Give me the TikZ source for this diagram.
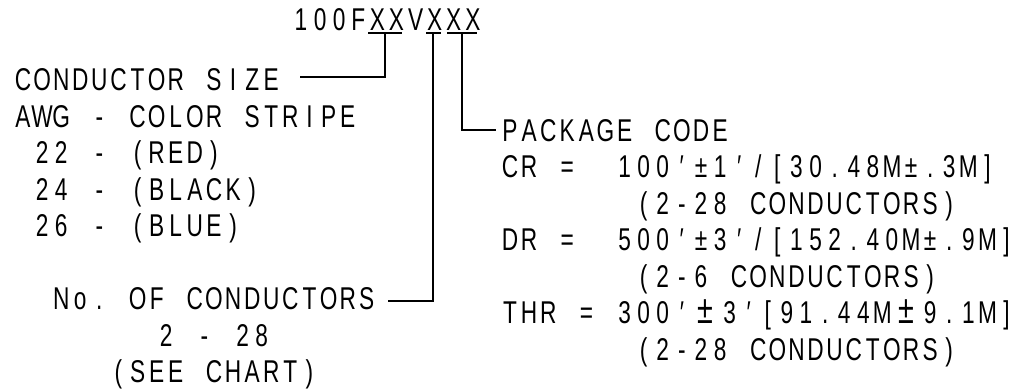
\documentclass[tikz,border=0pt]{standalone}
\usepackage{fontspec}
\newfontfamily\cadfont{Liberation Sans}[FakeStretch=0.72]
\newlength\cadpitch
\setlength\cadpitch{19.1pt}
\ExplSyntaxOn
\NewDocumentCommand\cad{m}{
  \str_map_inline:nn {#1}{
    \str_case:nnF {##1}
      { {@}{\hspace*{\cadpitch}}
        {*}{\makebox[1.5\cadpitch]{\fontsize{40}{40}\selectfont ±}} }
      {\makebox[\cadpitch]{##1}}
  }
}
\ExplSyntaxOff
\begin{document}
\begin{tikzpicture}[x=1pt,y=-1pt,
  lbl/.style={inner sep=0pt, outer sep=0pt, anchor=base west,
    font=\cadfont\fontsize{31.5}{32}\selectfont},
  wire/.style={line width=1.3pt, line cap=butt}]
\useasboundingbox (0,0) rectangle (1020,389);
\def\Lx{13.45}
\def\Rx{500.45}
\def\pitch{19.1}
% part number
\node[lbl] (pn) at (291.45,30.8) {\cad{100FXXVXXX}};
% left block
\node[lbl] (size) at (\Lx,90.8) {\cad{CONDUCTOR SIZE}};
\node[lbl] (awg) at (\Lx,127.3) {\cad{AWG - COLOR STRIPE}};
\node[lbl] (red) at ({\Lx+\pitch},163.8) {\cad{22 - (RED)}};
\node[lbl] (black) at ({\Lx+\pitch},200.3) {\cad{24 - (BLACK)}};
\node[lbl] (blue) at ({\Lx+\pitch},236.8) {\cad{26 - (BLUE)}};
\node[lbl] (nocond) at ({\Lx+2*\pitch},309.8) {\cad{No. OF CONDUCTORS}};
\node[lbl] (range) at ({\Lx+7.5*\pitch},346.3) {\cad{2 - 28}};
\node[lbl] (chart) at ({\Lx+5*\pitch},382.6) {\cad{(SEE CHART)}};
% right block
\node[lbl] (pkg) at (\Rx,141.3) {\cad{PACKAGE CODE}};
\node[lbl] (cr) at (\Rx,177.8) {\cad{CR = @100′±1′/[30.48M±.3M]}};
\node[lbl] (crn) at ({\Rx+7*\pitch},214.3) {\cad{(2-28 CONDUCTORS)}};
\node[lbl] (dr) at (\Rx,250.8) {\cad{DR = @500′±3′/[152.40M±.9M]}};
\node[lbl] (drn) at ({\Rx+7*\pitch},287.3) {\cad{(2-6 CONDUCTORS)}};
\node[lbl] (thr) at (\Rx,323.8) {\cad{THR = 300′*3′[91.44M*9.1M]}};
\node[lbl] (thrn) at ({\Rx+7*\pitch},360.3) {\cad{(2-28 CONDUCTORS)}};
% underline marks
\coordinate (u1a) at (368,33); \coordinate (u1b) at (402,33); \coordinate (u1) at (385,33);
\coordinate (u2a) at (426,33); \coordinate (u2b) at (441,33); \coordinate (u2) at (433,33);
\coordinate (u3a) at (447,33); \coordinate (u3b) at (477,33); \coordinate (u3) at (462,33);
\coordinate (e1) at (300,77);
\coordinate (e2) at (388,301);
\coordinate (e3) at (496,130);
\draw[wire] (u1a) -- (u1b);
\draw[wire] (u2a) -- (u2b);
\draw[wire] (u3a) -- (u3b);
\draw[wire] (u1) |- (e1);
\draw[wire] (u2) |- (e2);
\draw[wire] (u3) |- (e3);
\end{tikzpicture}
\end{document}
